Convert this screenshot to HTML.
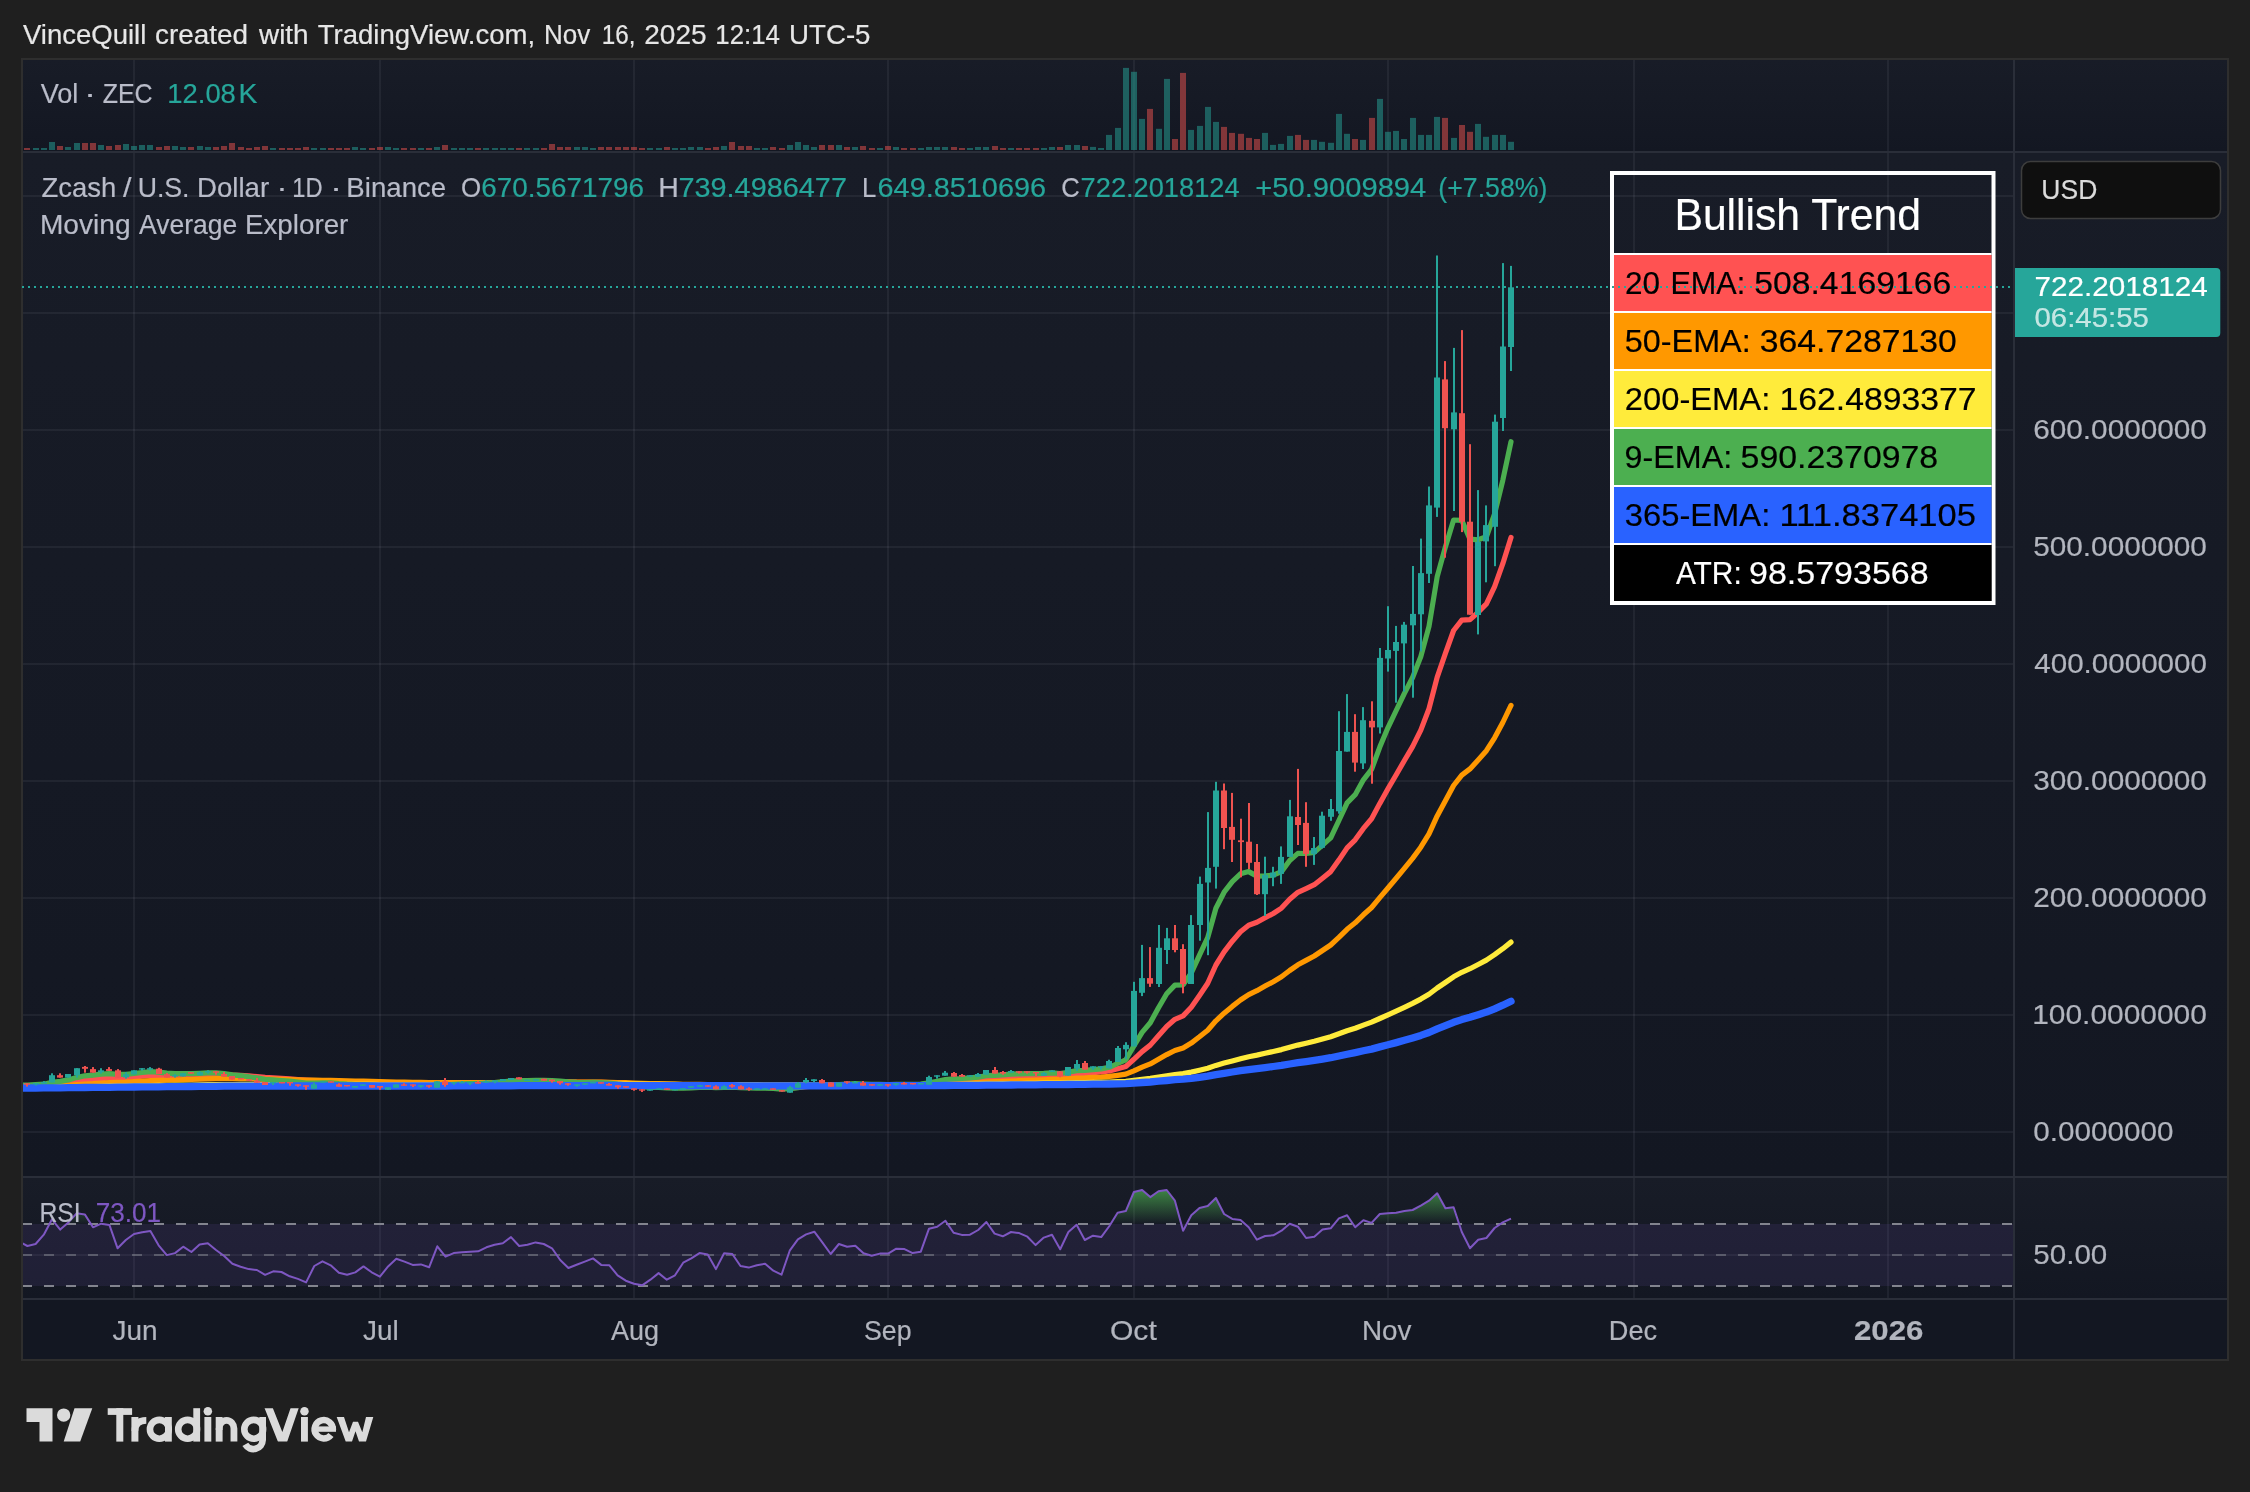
<!DOCTYPE html>
<html><head><meta charset="utf-8"><title>ZEC chart</title>
<style>html,body{margin:0;padding:0;background:#1f1f1f}svg{display:block;will-change:transform}text{font-family:"Liberation Sans",sans-serif;white-space:pre;stroke-width:0.2px}</style></head><body>
<svg width="2250" height="1492" viewBox="0 0 2250 1492">
<defs>
<linearGradient id="bg" x1="0" y1="0" x2="0" y2="1"><stop offset="0" stop-color="#181c27"/><stop offset="1" stop-color="#131722"/></linearGradient>
<linearGradient id="ob" gradientUnits="userSpaceOnUse" x1="0" y1="1178" x2="0" y2="1224"><stop offset="0" stop-color="#4caf50" stop-opacity="0.95"/><stop offset="1" stop-color="#4caf50" stop-opacity="0"/></linearGradient>
<clipPath id="cm"><rect x="23" y="153" width="1990" height="1023"/></clipPath>
<clipPath id="cv"><rect x="23" y="60" width="1990" height="90"/></clipPath>
<clipPath id="cr"><rect x="23" y="1178" width="1990" height="120"/></clipPath>
<clipPath id="c70"><rect x="23" y="1178" width="1990" height="46"/></clipPath>
</defs>
<rect width="2250" height="1492" fill="#1f1f1f"/>
<rect x="21" y="58" width="2208" height="1303" fill="#2e2e2e"/>
<rect x="23" y="60" width="2204" height="92" fill="url(#bg)"/>
<rect x="23" y="152" width="2204" height="1025" fill="url(#bg)"/>
<rect x="23" y="1177" width="2204" height="122" fill="url(#bg)"/>
<rect x="23" y="1299" width="2204" height="60" fill="#131722"/>
<g fill="#f0f3fa" fill-opacity="0.06">
<rect x="133" y="60" width="2" height="1238"/>
<rect x="379" y="60" width="2" height="1238"/>
<rect x="633" y="60" width="2" height="1238"/>
<rect x="887" y="60" width="2" height="1238"/>
<rect x="1133" y="60" width="2" height="1238"/>
<rect x="1387" y="60" width="2" height="1238"/>
<rect x="1633" y="60" width="2" height="1238"/>
<rect x="1887" y="60" width="2" height="1238"/>
<rect x="23" y="1131" width="1990" height="2"/>
<rect x="23" y="1014" width="1990" height="2"/>
<rect x="23" y="897" width="1990" height="2"/>
<rect x="23" y="780" width="1990" height="2"/>
<rect x="23" y="663" width="1990" height="2"/>
<rect x="23" y="546" width="1990" height="2"/>
<rect x="23" y="429" width="1990" height="2"/>
<rect x="23" y="312" width="1990" height="2"/>
<rect x="23" y="195" width="1990" height="2"/>
<rect x="23" y="1254" width="1990" height="2"/>
</g>
<g fill="#2a2e39">
<rect x="23" y="151" width="2204" height="2"/>
<rect x="23" y="1176" width="2204" height="2"/>
<rect x="23" y="1298" width="2204" height="2"/>
<rect x="2013" y="60" width="2" height="1299"/>
</g>
<g clip-path="url(#cv)">
<g fill="#26a69a" fill-opacity="0.5"><rect x="33" y="148" width="6" height="2"/><rect x="41" y="148" width="6" height="2"/><rect x="49" y="142" width="6" height="8"/><rect x="65" y="147" width="6" height="3"/><rect x="74" y="143" width="6" height="7"/><rect x="98" y="145" width="6" height="5"/><rect x="123" y="144" width="6" height="6"/><rect x="131" y="146" width="6" height="4"/><rect x="139" y="145" width="6" height="5"/><rect x="147" y="145" width="6" height="5"/><rect x="172" y="146" width="6" height="4"/><rect x="180" y="147" width="6" height="3"/><rect x="197" y="146" width="6" height="4"/><rect x="205" y="147" width="6" height="3"/><rect x="270" y="148" width="6" height="2"/><rect x="311" y="148" width="6" height="2"/><rect x="320" y="148" width="6" height="2"/><rect x="352" y="147" width="6" height="3"/><rect x="360" y="148" width="6" height="2"/><rect x="385" y="147" width="6" height="3"/><rect x="393" y="148" width="6" height="2"/><rect x="418" y="148" width="6" height="2"/><rect x="434" y="147" width="6" height="3"/><rect x="451" y="148" width="6" height="2"/><rect x="459" y="148" width="6" height="2"/><rect x="467" y="148" width="6" height="2"/><rect x="483" y="148" width="6" height="2"/><rect x="492" y="148" width="6" height="2"/><rect x="500" y="148" width="6" height="2"/><rect x="508" y="148" width="6" height="2"/><rect x="524" y="148" width="6" height="2"/><rect x="533" y="148" width="6" height="2"/><rect x="574" y="147" width="6" height="3"/><rect x="582" y="147" width="6" height="3"/><rect x="590" y="148" width="6" height="2"/><rect x="647" y="148" width="6" height="2"/><rect x="656" y="148" width="6" height="2"/><rect x="672" y="148" width="6" height="2"/><rect x="680" y="148" width="6" height="2"/><rect x="688" y="147" width="6" height="3"/><rect x="697" y="147" width="6" height="3"/><rect x="721" y="146" width="6" height="4"/><rect x="754" y="148" width="6" height="2"/><rect x="762" y="148" width="6" height="2"/><rect x="787" y="145" width="6" height="5"/><rect x="795" y="142" width="6" height="8"/><rect x="803" y="145" width="6" height="5"/><rect x="811" y="147" width="6" height="3"/><rect x="836" y="145" width="6" height="5"/><rect x="852" y="147" width="6" height="3"/><rect x="877" y="148" width="6" height="2"/><rect x="893" y="147" width="6" height="3"/><rect x="918" y="148" width="6" height="2"/><rect x="926" y="147" width="6" height="3"/><rect x="934" y="147" width="6" height="3"/><rect x="942" y="147" width="6" height="3"/><rect x="967" y="148" width="6" height="2"/><rect x="975" y="147" width="6" height="3"/><rect x="983" y="147" width="6" height="3"/><rect x="1008" y="148" width="6" height="2"/><rect x="1041" y="148" width="6" height="2"/><rect x="1049" y="147" width="6" height="3"/><rect x="1065" y="145" width="6" height="5"/><rect x="1074" y="145" width="6" height="5"/><rect x="1090" y="146.9" width="6" height="3.1"/><rect x="1098" y="148" width="6" height="2"/><rect x="1106" y="134.9" width="6" height="15.1"/><rect x="1115" y="127.9" width="6" height="22.1"/><rect x="1123" y="67.9" width="6" height="82.1"/><rect x="1131" y="71.8" width="6" height="78.2"/><rect x="1139" y="118.9" width="6" height="31.1"/><rect x="1156" y="128.8" width="6" height="21.2"/><rect x="1164" y="78.9" width="6" height="71.1"/><rect x="1188" y="129.9" width="6" height="20.1"/><rect x="1197" y="125.9" width="6" height="24.1"/><rect x="1205" y="106.9" width="6" height="43.1"/><rect x="1213" y="121.9" width="6" height="28.1"/><rect x="1262" y="132.9" width="6" height="17.1"/><rect x="1270" y="144.9" width="6" height="5.1"/><rect x="1278" y="143.9" width="6" height="6.1"/><rect x="1287" y="135.9" width="6" height="14.1"/><rect x="1311" y="139.9" width="6" height="10.1"/><rect x="1319" y="141.8" width="6" height="8.2"/><rect x="1328" y="142.8" width="6" height="7.2"/><rect x="1336" y="113.9" width="6" height="36.1"/><rect x="1344" y="133.8" width="6" height="16.2"/><rect x="1360" y="139.9" width="6" height="10.1"/><rect x="1377" y="98.9" width="6" height="51.1"/><rect x="1385" y="131.8" width="6" height="18.2"/><rect x="1393" y="130.9" width="6" height="19.1"/><rect x="1401" y="139" width="6" height="11"/><rect x="1410" y="117.9" width="6" height="32.1"/><rect x="1418" y="134.9" width="6" height="15.1"/><rect x="1426" y="134.9" width="6" height="15.1"/><rect x="1434" y="116.9" width="6" height="33.1"/><rect x="1451" y="137.9" width="6" height="12.1"/><rect x="1475" y="123.9" width="6" height="26.1"/><rect x="1483" y="136.8" width="6" height="13.2"/><rect x="1492" y="134.9" width="6" height="15.1"/><rect x="1500" y="134.9" width="6" height="15.1"/><rect x="1508" y="141.8" width="6" height="8.2"/></g>
<g fill="#ef5350" fill-opacity="0.5"><rect x="24" y="148" width="6" height="2"/><rect x="57" y="146" width="6" height="4"/><rect x="82" y="143" width="6" height="7"/><rect x="90" y="143" width="6" height="7"/><rect x="106" y="146" width="6" height="4"/><rect x="115" y="145" width="6" height="5"/><rect x="156" y="147" width="6" height="3"/><rect x="164" y="146" width="6" height="4"/><rect x="188" y="147" width="6" height="3"/><rect x="213" y="147" width="6" height="3"/><rect x="221" y="146" width="6" height="4"/><rect x="229" y="143" width="6" height="7"/><rect x="238" y="147" width="6" height="3"/><rect x="246" y="148" width="6" height="2"/><rect x="254" y="147" width="6" height="3"/><rect x="262" y="146" width="6" height="4"/><rect x="279" y="148" width="6" height="2"/><rect x="287" y="148" width="6" height="2"/><rect x="295" y="148" width="6" height="2"/><rect x="303" y="147" width="6" height="3"/><rect x="328" y="148" width="6" height="2"/><rect x="336" y="148" width="6" height="2"/><rect x="344" y="148" width="6" height="2"/><rect x="369" y="148" width="6" height="2"/><rect x="377" y="147" width="6" height="3"/><rect x="401" y="148" width="6" height="2"/><rect x="410" y="148" width="6" height="2"/><rect x="426" y="148" width="6" height="2"/><rect x="442" y="145" width="6" height="5"/><rect x="475" y="148" width="6" height="2"/><rect x="516" y="148" width="6" height="2"/><rect x="541" y="148" width="6" height="2"/><rect x="549" y="144" width="6" height="6"/><rect x="557" y="147" width="6" height="3"/><rect x="565" y="147" width="6" height="3"/><rect x="598" y="147" width="6" height="3"/><rect x="606" y="147" width="6" height="3"/><rect x="615" y="147" width="6" height="3"/><rect x="623" y="147" width="6" height="3"/><rect x="631" y="147" width="6" height="3"/><rect x="639" y="148" width="6" height="2"/><rect x="664" y="147" width="6" height="3"/><rect x="705" y="148" width="6" height="2"/><rect x="713" y="147" width="6" height="3"/><rect x="729" y="142" width="6" height="8"/><rect x="738" y="146" width="6" height="4"/><rect x="746" y="146" width="6" height="4"/><rect x="770" y="147" width="6" height="3"/><rect x="779" y="148" width="6" height="2"/><rect x="819" y="145" width="6" height="5"/><rect x="828" y="145" width="6" height="5"/><rect x="844" y="147" width="6" height="3"/><rect x="860" y="146" width="6" height="4"/><rect x="869" y="148" width="6" height="2"/><rect x="885" y="146" width="6" height="4"/><rect x="901" y="148" width="6" height="2"/><rect x="910" y="148" width="6" height="2"/><rect x="951" y="147" width="6" height="3"/><rect x="959" y="148" width="6" height="2"/><rect x="992" y="146" width="6" height="4"/><rect x="1000" y="148" width="6" height="2"/><rect x="1016" y="148" width="6" height="2"/><rect x="1024" y="148" width="6" height="2"/><rect x="1033" y="148" width="6" height="2"/><rect x="1057" y="147" width="6" height="3"/><rect x="1082" y="146" width="6" height="4"/><rect x="1147" y="108.9" width="6" height="41.1"/><rect x="1172" y="139" width="6" height="11"/><rect x="1180" y="72.9" width="6" height="77.1"/><rect x="1221" y="126.9" width="6" height="23.1"/><rect x="1229" y="132.9" width="6" height="17.1"/><rect x="1238" y="133.8" width="6" height="16.2"/><rect x="1246" y="137.9" width="6" height="12.1"/><rect x="1254" y="139" width="6" height="11"/><rect x="1295" y="134.9" width="6" height="15.1"/><rect x="1303" y="139.9" width="6" height="10.1"/><rect x="1352" y="139" width="6" height="11"/><rect x="1369" y="117.9" width="6" height="32.1"/><rect x="1442" y="117.9" width="6" height="32.1"/><rect x="1459" y="125" width="6" height="25"/><rect x="1467" y="131.8" width="6" height="18.2"/></g>
</g>
<g clip-path="url(#cm)">
<polyline points="19.3,1086.2 27.4,1086.2 35.6,1085.9 43.8,1085.6 52,1084.6 60.2,1083.9 68.4,1083 76.6,1081.6 84.8,1080.3 93,1079.6 101.2,1078.7 109.4,1078 117.6,1077.9 125.8,1077.6 134,1076.9 142.2,1076.1 150.4,1075.3 158.6,1075.2 166.8,1075.4 175,1075.4 183.2,1075.2 191.4,1075.1 199.6,1074.8 207.8,1074.5 216,1074.3 224.2,1074.5 232.4,1075 240.6,1075.4 248.7,1075.9 256.9,1076.6 265.1,1077.4 273.3,1077.8 281.5,1078.3 289.7,1078.8 297.9,1079.5 306.1,1080.1 314.3,1080.6 322.5,1080.6 330.7,1080.8 338.9,1081.4 347.1,1081.9 355.3,1082.3 363.5,1082.5 371.7,1083 379.9,1083.4 388.1,1083.8 396.3,1083.8 404.5,1084 412.7,1084.2 420.9,1084.3 429.1,1084.5 437.3,1084.2 445.5,1084.3 453.7,1084.1 461.9,1083.9 470,1083.7 478.2,1083.7 486.4,1083.5 494.6,1083.2 502.8,1082.8 511,1082.3 519.2,1082 527.4,1081.8 535.6,1081.6 543.8,1081.5 552,1081.5 560.2,1081.6 568.4,1081.9 576.6,1082.2 584.8,1082.3 593,1082.3 601.2,1082.4 609.4,1082.7 617.6,1083.1 625.8,1083.6 634,1084.1 642.2,1084.8 650.4,1085.2 658.6,1085.5 666.8,1085.9 675,1086.2 683.2,1086.4 691.3,1086.4 699.5,1086.3 707.7,1086.3 715.9,1086.6 724.1,1086.6 732.3,1086.6 740.5,1086.8 748.7,1087.1 756.9,1087.2 765.1,1087.4 773.3,1087.6 781.5,1088 789.7,1087.9 797.9,1087.5 806.1,1086.7 814.3,1086 822.5,1085.8 830.7,1085.9 838.9,1085.6 847.1,1085.3 855.3,1085 863.5,1085 871.7,1085.1 879.9,1085 888.1,1085.1 896.3,1084.9 904.5,1084.9 912.6,1084.8 920.8,1084.6 929,1083.9 937.2,1083.1 945.4,1082.1 953.6,1081.6 961.8,1081.1 970,1080.6 978.2,1079.9 986.4,1079 994.6,1078.5 1002.8,1078 1011,1077.4 1019.2,1076.9 1027.4,1076.5 1035.6,1076.2 1043.8,1075.9 1052,1075.4 1060.2,1075.5 1068.4,1074.7 1076.6,1073.6 1084.8,1073.3 1093,1072.6 1101.2,1072 1109.4,1070.9 1117.6,1068.8 1125.8,1066.5 1133.9,1059.3 1142.1,1051.6 1150.3,1045.1 1158.5,1035.8 1166.7,1026.5 1174.9,1019.3 1183.1,1015.9 1191.3,1007.2 1199.5,995.5 1207.7,983.3 1215.9,965 1224.1,951.9 1232.3,941.2 1240.5,931.8 1248.7,925.2 1256.9,922.3 1265.1,917.8 1273.3,913.5 1281.5,908.1 1289.7,899.3 1297.9,892.3 1306.1,888.6 1314.3,884.7 1322.5,878.2 1330.7,871.6 1338.9,860.1 1347.1,847.9 1355.2,839.8 1363.4,828.4 1371.6,818.8 1379.8,803.4 1388,788.8 1396.2,774.8 1404.4,760.5 1412.6,746.6 1420.8,730.1 1429,708.7 1437.2,677.1 1445.4,653.4 1453.6,630.5 1461.8,620.1 1470,619.6 1478.2,612.2 1486.4,603.9 1494.6,586.6 1502.8,563.7 1511,537.4" fill="none" stroke="#ff5252" stroke-width="5.2" stroke-linejoin="round" stroke-linecap="round"/>
<polyline points="19.3,1086.9 27.4,1086.9 35.6,1086.7 43.8,1086.5 52,1086.1 60.2,1085.8 68.4,1085.3 76.6,1084.6 84.8,1084 93,1083.6 101.2,1083 109.4,1082.6 117.6,1082.4 125.8,1082.1 134,1081.6 142.2,1081.1 150.4,1080.6 158.6,1080.3 166.8,1080.2 175,1080 183.2,1079.7 191.4,1079.5 199.6,1079.2 207.8,1078.9 216,1078.7 224.2,1078.6 232.4,1078.6 240.6,1078.7 248.7,1078.7 256.9,1078.9 265.1,1079.1 273.3,1079.2 281.5,1079.4 289.7,1079.6 297.9,1079.8 306.1,1080.1 314.3,1080.2 322.5,1080.3 330.7,1080.4 338.9,1080.6 347.1,1080.8 355.3,1081 363.5,1081.2 371.7,1081.4 379.9,1081.7 388.1,1081.9 396.3,1082 404.5,1082.1 412.7,1082.3 420.9,1082.4 429.1,1082.6 437.3,1082.5 445.5,1082.6 453.7,1082.6 461.9,1082.6 470,1082.6 478.2,1082.6 486.4,1082.5 494.6,1082.5 502.8,1082.3 511,1082.2 519.2,1082 527.4,1081.9 535.6,1081.8 543.8,1081.8 552,1081.8 560.2,1081.8 568.4,1082 576.6,1082 584.8,1082.1 593,1082.1 601.2,1082.2 609.4,1082.3 617.6,1082.5 625.8,1082.7 634,1083 642.2,1083.3 650.4,1083.5 658.6,1083.7 666.8,1083.9 675,1084.1 683.2,1084.3 691.3,1084.4 699.5,1084.4 707.7,1084.5 715.9,1084.7 724.1,1084.7 732.3,1084.8 740.5,1085 748.7,1085.2 756.9,1085.3 765.1,1085.4 773.3,1085.6 781.5,1085.8 789.7,1085.9 797.9,1085.8 806.1,1085.6 814.3,1085.3 822.5,1085.2 830.7,1085.3 838.9,1085.2 847.1,1085.1 855.3,1085 863.5,1085 871.7,1085 879.9,1085 888.1,1085 896.3,1085 904.5,1084.9 912.6,1084.9 920.8,1084.8 929,1084.5 937.2,1084.2 945.4,1083.7 953.6,1083.4 961.8,1083.2 970,1082.9 978.2,1082.5 986.4,1082 994.6,1081.7 1002.8,1081.4 1011,1081 1019.2,1080.7 1027.4,1080.3 1035.6,1080.1 1043.8,1079.8 1052,1079.4 1060.2,1079.3 1068.4,1078.8 1076.6,1078.2 1084.8,1077.9 1093,1077.4 1101.2,1077 1109.4,1076.4 1117.6,1075.3 1125.8,1074.1 1133.9,1070.8 1142.1,1067.2 1150.3,1063.9 1158.5,1059.3 1166.7,1054.6 1174.9,1050.5 1183.1,1047.9 1191.3,1043.1 1199.5,1036.8 1207.7,1030.2 1215.9,1020.8 1224.1,1013.2 1232.3,1006.4 1240.5,1000 1248.7,994.6 1256.9,990.7 1265.1,986.1 1273.3,981.7 1281.5,976.8 1289.7,970.5 1297.9,964.8 1306.1,960.4 1314.3,956 1322.5,950.5 1330.7,945 1338.9,937.4 1347.1,929.3 1355.2,922.8 1363.4,914.8 1371.6,907.5 1379.8,897.7 1388,888 1396.2,878.3 1404.4,868.4 1412.6,858.4 1420.8,847.2 1429,833.8 1437.2,815.9 1445.4,800.7 1453.6,785.5 1461.8,775.1 1470,768.9 1478.2,760 1486.4,750.7 1494.6,737.8 1502.8,722.5 1511,705.4" fill="none" stroke="#ff9800" stroke-width="5.2" stroke-linejoin="round" stroke-linecap="round"/>
<polyline points="19.3,1087.5 27.4,1087.5 35.6,1087.5 43.8,1087.4 52,1087.3 60.2,1087.2 68.4,1087.1 76.6,1086.9 84.8,1086.7 93,1086.6 101.2,1086.4 109.4,1086.2 117.6,1086.2 125.8,1086 134,1085.9 142.2,1085.7 150.4,1085.5 158.6,1085.4 166.8,1085.3 175,1085.2 183.2,1085.1 191.4,1085 199.6,1084.9 207.8,1084.7 216,1084.6 224.2,1084.5 232.4,1084.5 240.6,1084.4 248.7,1084.4 256.9,1084.4 265.1,1084.4 273.3,1084.4 281.5,1084.4 289.7,1084.4 297.9,1084.4 306.1,1084.4 314.3,1084.4 322.5,1084.4 330.7,1084.3 338.9,1084.4 347.1,1084.4 355.3,1084.4 363.5,1084.4 371.7,1084.4 379.9,1084.5 388.1,1084.5 396.3,1084.5 404.5,1084.5 412.7,1084.5 420.9,1084.5 429.1,1084.5 437.3,1084.5 445.5,1084.5 453.7,1084.5 461.9,1084.5 470,1084.4 478.2,1084.4 486.4,1084.4 494.6,1084.4 502.8,1084.3 511,1084.3 519.2,1084.2 527.4,1084.2 535.6,1084.1 543.8,1084.1 552,1084 560.2,1084 568.4,1084 576.6,1084 584.8,1084 593,1084 601.2,1084 609.4,1084 617.6,1084.1 625.8,1084.1 634,1084.2 642.2,1084.2 650.4,1084.3 658.6,1084.3 666.8,1084.4 675,1084.4 683.2,1084.5 691.3,1084.5 699.5,1084.5 707.7,1084.5 715.9,1084.5 724.1,1084.6 732.3,1084.6 740.5,1084.6 748.7,1084.7 756.9,1084.7 765.1,1084.8 773.3,1084.8 781.5,1084.9 789.7,1084.9 797.9,1084.9 806.1,1084.8 814.3,1084.8 822.5,1084.8 830.7,1084.8 838.9,1084.8 847.1,1084.7 855.3,1084.7 863.5,1084.7 871.7,1084.7 879.9,1084.7 888.1,1084.7 896.3,1084.7 904.5,1084.7 912.6,1084.7 920.8,1084.7 929,1084.6 937.2,1084.5 945.4,1084.4 953.6,1084.3 961.8,1084.3 970,1084.2 978.2,1084.1 986.4,1083.9 994.6,1083.8 1002.8,1083.7 1011,1083.6 1019.2,1083.5 1027.4,1083.4 1035.6,1083.3 1043.8,1083.2 1052,1083.1 1060.2,1083 1068.4,1082.8 1076.6,1082.6 1084.8,1082.5 1093,1082.3 1101.2,1082.2 1109.4,1082 1117.6,1081.6 1125.8,1081.3 1133.9,1080.4 1142.1,1079.4 1150.3,1078.4 1158.5,1077.1 1166.7,1075.7 1174.9,1074.5 1183.1,1073.6 1191.3,1072.1 1199.5,1070.2 1207.7,1068.2 1215.9,1065.4 1224.1,1063.1 1232.3,1060.9 1240.5,1058.7 1248.7,1056.7 1256.9,1055.1 1265.1,1053.3 1273.3,1051.5 1281.5,1049.6 1289.7,1047.3 1297.9,1045.1 1306.1,1043.2 1314.3,1041.2 1322.5,1039 1330.7,1036.7 1338.9,1033.8 1347.1,1030.8 1355.2,1028.2 1363.4,1025.1 1371.6,1022.1 1379.8,1018.5 1388,1014.8 1396.2,1011.1 1404.4,1007.3 1412.6,1003.4 1420.8,999.1 1429,994.2 1437.2,988 1445.4,982.5 1453.6,976.8 1461.8,972.3 1470,968.7 1478.2,964.5 1486.4,960.1 1494.6,954.7 1502.8,948.7 1511,942.1" fill="none" stroke="#ffeb3b" stroke-width="5.2" stroke-linejoin="round" stroke-linecap="round"/>
<polyline points="19.3,1085.1 27.4,1085.1 35.6,1084.7 43.8,1084.2 52,1082.4 60.2,1081.4 68.4,1079.9 76.6,1077.6 84.8,1075.8 93,1075.2 101.2,1074.2 109.4,1073.6 117.6,1074.4 125.8,1074.3 134,1073.5 142.2,1072.5 150.4,1071.6 158.6,1072.1 166.8,1073.2 175,1073.6 183.2,1073.6 191.4,1073.6 199.6,1073.3 207.8,1072.9 216,1072.9 224.2,1073.6 232.4,1074.8 240.6,1075.7 248.7,1076.7 256.9,1077.9 265.1,1079.3 273.3,1079.9 281.5,1080.5 289.7,1081.1 297.9,1082 306.1,1083 314.3,1083.2 322.5,1082.9 330.7,1082.8 338.9,1083.6 347.1,1084.2 355.3,1084.5 363.5,1084.5 371.7,1085.1 379.9,1085.6 388.1,1086 396.3,1085.7 404.5,1085.7 412.7,1085.7 420.9,1085.6 429.1,1085.8 437.3,1084.9 445.5,1084.9 453.7,1084.3 461.9,1083.9 470,1083.6 478.2,1083.6 486.4,1083.1 494.6,1082.6 502.8,1081.9 511,1081.1 519.2,1080.7 527.4,1080.5 535.6,1080.3 543.8,1080.3 552,1080.5 560.2,1081.1 568.4,1081.8 576.6,1082.3 584.8,1082.5 593,1082.4 601.2,1082.7 609.4,1083.2 617.6,1084.1 625.8,1084.8 634,1085.8 642.2,1086.7 650.4,1087.3 658.6,1087.5 666.8,1087.9 675,1088.1 683.2,1088.2 691.3,1087.8 699.5,1087.3 707.7,1087.2 715.9,1087.6 724.1,1087.3 732.3,1087.2 740.5,1087.6 748.7,1088 756.9,1088.1 765.1,1088.2 773.3,1088.5 781.5,1089.1 789.7,1088.7 797.9,1087.7 806.1,1086.1 814.3,1084.8 822.5,1084.5 830.7,1084.9 838.9,1084.5 847.1,1084.1 855.3,1083.7 863.5,1084.1 871.7,1084.4 879.9,1084.4 888.1,1084.6 896.3,1084.3 904.5,1084.4 912.6,1084.4 920.8,1084.1 929,1082.7 937.2,1081.2 945.4,1079.5 953.6,1078.9 961.8,1078.5 970,1077.9 978.2,1077.1 986.4,1075.7 994.6,1075.3 1002.8,1074.9 1011,1074.1 1019.2,1073.9 1027.4,1073.6 1035.6,1073.6 1043.8,1073.4 1052,1072.8 1060.2,1073.5 1068.4,1072.2 1076.6,1070.6 1084.8,1070.4 1093,1069.6 1101.2,1068.9 1109.4,1067.3 1117.6,1063.5 1125.8,1059.8 1133.9,1046 1142.1,1032.4 1150.3,1022.7 1158.5,1007.7 1166.7,993.8 1174.9,985.1 1183.1,984.8 1191.3,972.9 1199.5,955.1 1207.7,937.6 1215.9,908.2 1224.1,892.2 1232.3,881.7 1240.5,873.8 1248.7,871.6 1256.9,876.1 1265.1,875.9 1273.3,875.2 1281.5,871.6 1289.7,860.5 1297.9,853.4 1306.1,853.5 1314.3,852.4 1322.5,845.1 1330.7,837.9 1338.9,820.5 1347.1,802.8 1355.2,794.7 1363.4,779.8 1371.6,769.3 1379.8,747.1 1388,727.6 1396.2,710.5 1404.4,693.4 1412.6,677.5 1420.8,656.6 1429,626.4 1437.2,576.6 1445.4,546.9 1453.6,520 1461.8,520.3 1470,539.2 1478.2,539.8 1486.4,536.8 1494.6,513.8 1502.8,480.3 1511,441.7" fill="none" stroke="#4caf50" stroke-width="5.2" stroke-linejoin="round" stroke-linecap="round"/>
<polyline points="19.3,1088 27.4,1088 35.6,1088 43.8,1087.9 52,1087.9 60.2,1087.8 68.4,1087.7 76.6,1087.6 84.8,1087.5 93,1087.4 101.2,1087.3 109.4,1087.3 117.6,1087.2 125.8,1087.1 134,1087 142.2,1086.9 150.4,1086.8 158.6,1086.8 166.8,1086.7 175,1086.7 183.2,1086.6 191.4,1086.5 199.6,1086.4 207.8,1086.3 216,1086.3 224.2,1086.2 232.4,1086.2 240.6,1086.1 248.7,1086.1 256.9,1086.1 265.1,1086.1 273.3,1086.1 281.5,1086.1 289.7,1086 297.9,1086 306.1,1086 314.3,1086 322.5,1086 330.7,1086 338.9,1086 347.1,1086 355.3,1086 363.5,1086 371.7,1086 379.9,1086 388.1,1086 396.3,1086 404.5,1086 412.7,1086 420.9,1086 429.1,1086 437.3,1086 445.5,1086 453.7,1085.9 461.9,1085.9 470,1085.9 478.2,1085.9 486.4,1085.9 494.6,1085.8 502.8,1085.8 511,1085.8 519.2,1085.7 527.4,1085.7 535.6,1085.7 543.8,1085.6 552,1085.6 560.2,1085.6 568.4,1085.6 576.6,1085.6 584.8,1085.6 593,1085.5 601.2,1085.5 609.4,1085.5 617.6,1085.5 625.8,1085.6 634,1085.6 642.2,1085.6 650.4,1085.6 658.6,1085.6 666.8,1085.7 675,1085.7 683.2,1085.7 691.3,1085.7 699.5,1085.7 707.7,1085.7 715.9,1085.7 724.1,1085.7 732.3,1085.7 740.5,1085.8 748.7,1085.8 756.9,1085.8 765.1,1085.8 773.3,1085.8 781.5,1085.9 789.7,1085.9 797.9,1085.8 806.1,1085.8 814.3,1085.8 822.5,1085.8 830.7,1085.8 838.9,1085.8 847.1,1085.7 855.3,1085.7 863.5,1085.7 871.7,1085.7 879.9,1085.7 888.1,1085.7 896.3,1085.7 904.5,1085.7 912.6,1085.7 920.8,1085.7 929,1085.6 937.2,1085.6 945.4,1085.5 953.6,1085.4 961.8,1085.4 970,1085.3 978.2,1085.3 986.4,1085.2 994.6,1085.1 1002.8,1085.1 1011,1085 1019.2,1084.9 1027.4,1084.9 1035.6,1084.8 1043.8,1084.7 1052,1084.7 1060.2,1084.6 1068.4,1084.5 1076.6,1084.4 1084.8,1084.3 1093,1084.2 1101.2,1084.1 1109.4,1084 1117.6,1083.8 1125.8,1083.6 1133.9,1083.1 1142.1,1082.5 1150.3,1082 1158.5,1081.2 1166.7,1080.5 1174.9,1079.7 1183.1,1079.2 1191.3,1078.4 1199.5,1077.3 1207.7,1076.2 1215.9,1074.6 1224.1,1073.3 1232.3,1072 1240.5,1070.7 1248.7,1069.6 1256.9,1068.6 1265.1,1067.6 1273.3,1066.5 1281.5,1065.4 1289.7,1064 1297.9,1062.7 1306.1,1061.6 1314.3,1060.4 1322.5,1059.1 1330.7,1057.7 1338.9,1056 1347.1,1054.2 1355.2,1052.6 1363.4,1050.8 1371.6,1049.1 1379.8,1046.9 1388,1044.8 1396.2,1042.6 1404.4,1040.3 1412.6,1037.9 1420.8,1035.4 1429,1032.5 1437.2,1028.9 1445.4,1025.6 1453.6,1022.3 1461.8,1019.6 1470,1017.3 1478.2,1014.7 1486.4,1012.1 1494.6,1008.8 1502.8,1005.2 1511,1001.3" fill="none" stroke="#2962ff" stroke-width="7.3" stroke-linejoin="round" stroke-linecap="round"/>
<g fill="#26a69a"><rect x="35" y="1083.3" width="2" height="2.2"/><rect x="33" y="1083" width="6" height="1.4"/><rect x="43" y="1081.1" width="2" height="2.4"/><rect x="41" y="1082" width="6" height="1.5"/><rect x="51" y="1073.3" width="2" height="9.1"/><rect x="49" y="1075.2" width="6" height="7.2"/><rect x="67" y="1074" width="2" height="3.6"/><rect x="65" y="1074" width="6" height="3.6"/><rect x="76" y="1068.2" width="2" height="9.4"/><rect x="74" y="1068.2" width="6" height="7"/><rect x="100" y="1068.2" width="2" height="5.4"/><rect x="98" y="1070.3" width="6" height="1.9"/><rect x="125" y="1072.2" width="2" height="6.4"/><rect x="123" y="1074.2" width="6" height="3.2"/><rect x="133" y="1070.3" width="2" height="4.1"/><rect x="131" y="1070.3" width="6" height="4.1"/><rect x="141" y="1068.2" width="2" height="2.4"/><rect x="139" y="1068.2" width="6" height="1.4"/><rect x="149" y="1067.1" width="2" height="3.5"/><rect x="147" y="1068.2" width="6" height="1.5"/><rect x="174" y="1074.2" width="2" height="3.4"/><rect x="172" y="1075.1" width="6" height="1.4"/><rect x="182" y="1073.3" width="2" height="3.1"/><rect x="180" y="1073.3" width="6" height="3.1"/><rect x="199" y="1071.3" width="2" height="4"/><rect x="197" y="1072.2" width="6" height="3.1"/><rect x="207" y="1070.3" width="2" height="3.3"/><rect x="205" y="1071.1" width="6" height="1.4"/><rect x="272" y="1082" width="2" height="3"/><rect x="270" y="1082" width="6" height="1.4"/><rect x="313" y="1082.7" width="2" height="6"/><rect x="311" y="1084.4" width="6" height="4.3"/><rect x="322" y="1081.3" width="2" height="1.4"/><rect x="320" y="1081.3" width="6" height="1.4"/><rect x="354" y="1086" width="2" height="1.6"/><rect x="352" y="1086" width="6" height="1.6"/><rect x="362" y="1084.4" width="2" height="1.3"/><rect x="360" y="1084.4" width="6" height="1.4"/><rect x="387" y="1087.3" width="2" height="2.3"/><rect x="385" y="1087.3" width="6" height="2.3"/><rect x="395" y="1084.4" width="2" height="3.3"/><rect x="393" y="1084.4" width="6" height="3.3"/><rect x="420" y="1085.3" width="2" height="2.4"/><rect x="418" y="1085.3" width="6" height="1.4"/><rect x="436" y="1081.3" width="2" height="6.4"/><rect x="434" y="1081.3" width="6" height="6.4"/><rect x="453" y="1082" width="2" height="2.7"/><rect x="451" y="1082" width="6" height="1.4"/><rect x="461" y="1081" width="2" height="2.3"/><rect x="459" y="1082" width="6" height="1.4"/><rect x="469" y="1082.3" width="2" height="2.7"/><rect x="467" y="1082.2" width="6" height="1.4"/><rect x="485" y="1080.4" width="2" height="2.3"/><rect x="483" y="1081.3" width="6" height="1.4"/><rect x="494" y="1080.4" width="2" height="2.9"/><rect x="492" y="1080.4" width="6" height="1.6"/><rect x="502" y="1079" width="2" height="2"/><rect x="500" y="1079" width="6" height="2"/><rect x="510" y="1078" width="2" height="2"/><rect x="508" y="1078" width="6" height="2"/><rect x="526" y="1079.6" width="2" height="1.4"/><rect x="524" y="1079.6" width="6" height="1.4"/><rect x="535" y="1079.3" width="2" height="1.4"/><rect x="533" y="1079.3" width="6" height="1.4"/><rect x="576" y="1084.4" width="2" height="2.3"/><rect x="574" y="1084.4" width="6" height="1.4"/><rect x="584" y="1083.3" width="2" height="1.4"/><rect x="582" y="1083.3" width="6" height="1.4"/><rect x="592" y="1082" width="2" height="1.3"/><rect x="590" y="1082" width="6" height="1.4"/><rect x="649" y="1089.3" width="2" height="1.4"/><rect x="647" y="1089.3" width="6" height="1.4"/><rect x="658" y="1088.4" width="2" height="1.3"/><rect x="656" y="1088.4" width="6" height="1.4"/><rect x="674" y="1089" width="2" height="1.3"/><rect x="672" y="1089" width="6" height="1.4"/><rect x="682" y="1088.3" width="2" height="1.7"/><rect x="680" y="1088.3" width="6" height="1.7"/><rect x="690" y="1086.3" width="2" height="1.3"/><rect x="688" y="1086.2" width="6" height="1.4"/><rect x="699" y="1085.3" width="2" height="1.4"/><rect x="697" y="1085.3" width="6" height="1.4"/><rect x="723" y="1085.3" width="2" height="4"/><rect x="721" y="1086.3" width="6" height="3"/><rect x="756" y="1088.4" width="2" height="1.3"/><rect x="754" y="1088.4" width="6" height="1.4"/><rect x="764" y="1088.4" width="2" height="1.3"/><rect x="762" y="1088.4" width="6" height="1.4"/><rect x="789" y="1086" width="2" height="6.7"/><rect x="787" y="1087.3" width="6" height="5.4"/><rect x="797" y="1082" width="2" height="5.7"/><rect x="795" y="1083.3" width="6" height="4.4"/><rect x="805" y="1078" width="2" height="5.3"/><rect x="803" y="1080" width="6" height="2"/><rect x="813" y="1079.3" width="2" height="2.7"/><rect x="811" y="1079.3" width="6" height="1.7"/><rect x="838" y="1082.7" width="2" height="4"/><rect x="836" y="1082.7" width="6" height="4"/><rect x="854" y="1081" width="2" height="2.3"/><rect x="852" y="1082" width="6" height="1.4"/><rect x="879" y="1084.3" width="2" height="1.3"/><rect x="877" y="1084.2" width="6" height="1.4"/><rect x="895" y="1083.3" width="2" height="2.3"/><rect x="893" y="1083.3" width="6" height="1.4"/><rect x="920" y="1083" width="2" height="1.4"/><rect x="918" y="1083" width="6" height="1.4"/><rect x="928" y="1075.7" width="2" height="9"/><rect x="926" y="1077" width="6" height="7.7"/><rect x="936" y="1075.3" width="2" height="3.4"/><rect x="934" y="1075.3" width="6" height="1.4"/><rect x="944" y="1071" width="2" height="4.7"/><rect x="942" y="1072.7" width="6" height="3"/><rect x="969" y="1075.3" width="2" height="1.4"/><rect x="967" y="1075.3" width="6" height="1.4"/><rect x="977" y="1073" width="2" height="3.7"/><rect x="975" y="1074" width="6" height="2.7"/><rect x="985" y="1070" width="2" height="4.7"/><rect x="983" y="1070" width="6" height="4.7"/><rect x="1010" y="1070" width="2" height="2.7"/><rect x="1008" y="1071" width="6" height="1.7"/><rect x="1043" y="1072" width="2" height="3.7"/><rect x="1041" y="1073" width="6" height="2.7"/><rect x="1051" y="1070.4" width="2" height="1.6"/><rect x="1049" y="1070.4" width="6" height="1.6"/><rect x="1067" y="1067" width="2" height="8.7"/><rect x="1065" y="1067" width="6" height="8.7"/><rect x="1076" y="1060" width="2" height="11"/><rect x="1074" y="1064" width="6" height="4.7"/><rect x="1092" y="1066.3" width="2" height="3.7"/><rect x="1090" y="1066.3" width="6" height="2"/><rect x="1100" y="1066.3" width="2" height="3.3"/><rect x="1098" y="1066.2" width="6" height="1.4"/><rect x="1108" y="1059.7" width="2" height="8.6"/><rect x="1106" y="1061" width="6" height="7.3"/><rect x="1117" y="1046" width="2" height="16"/><rect x="1115" y="1048" width="6" height="14"/><rect x="1125" y="1042.2" width="2" height="17"/><rect x="1123" y="1044.9" width="6" height="4.4"/><rect x="1133" y="981.8" width="2" height="64.6"/><rect x="1131" y="990.9" width="6" height="55.5"/><rect x="1141" y="944.9" width="2" height="51.2"/><rect x="1139" y="978.1" width="6" height="14.7"/><rect x="1158" y="925" width="2" height="62"/><rect x="1156" y="947.8" width="6" height="36.2"/><rect x="1166" y="927.9" width="2" height="36.1"/><rect x="1164" y="938.3" width="6" height="11.7"/><rect x="1190" y="915.1" width="2" height="68.9"/><rect x="1188" y="925" width="6" height="59"/><rect x="1199" y="876.6" width="2" height="64.1"/><rect x="1197" y="883.9" width="6" height="41.1"/><rect x="1207" y="812.1" width="2" height="143.1"/><rect x="1205" y="867.9" width="6" height="14.6"/><rect x="1215" y="781.8" width="2" height="106.8"/><rect x="1213" y="790.5" width="6" height="76.3"/><rect x="1264" y="856.7" width="2" height="59.3"/><rect x="1262" y="875" width="6" height="19.2"/><rect x="1272" y="866.8" width="2" height="19.4"/><rect x="1270" y="872.6" width="6" height="4.7"/><rect x="1280" y="846.4" width="2" height="37.5"/><rect x="1278" y="856.9" width="6" height="16.9"/><rect x="1289" y="799.9" width="2" height="57"/><rect x="1287" y="816.3" width="6" height="40.6"/><rect x="1313" y="837" width="2" height="27.9"/><rect x="1311" y="848" width="6" height="5.9"/><rect x="1321" y="811.7" width="2" height="36.8"/><rect x="1319" y="815.7" width="6" height="32.1"/><rect x="1330" y="799" width="2" height="21.8"/><rect x="1328" y="809" width="6" height="7.8"/><rect x="1338" y="711.2" width="2" height="102.5"/><rect x="1336" y="751" width="6" height="60.3"/><rect x="1346" y="694.1" width="2" height="57.5"/><rect x="1344" y="731.9" width="6" height="19.7"/><rect x="1362" y="707.1" width="2" height="61.9"/><rect x="1360" y="720.2" width="6" height="43.2"/><rect x="1379" y="648" width="2" height="85.5"/><rect x="1377" y="657.9" width="6" height="69.5"/><rect x="1387" y="606.2" width="2" height="65.4"/><rect x="1385" y="650" width="6" height="8.5"/><rect x="1395" y="625.9" width="2" height="76.8"/><rect x="1393" y="642" width="6" height="8.9"/><rect x="1403" y="621.9" width="2" height="69.8"/><rect x="1401" y="624.7" width="6" height="18.7"/><rect x="1412" y="566" width="2" height="131.7"/><rect x="1410" y="613.9" width="6" height="11.4"/><rect x="1420" y="538.6" width="2" height="112.9"/><rect x="1418" y="573.1" width="6" height="41.2"/><rect x="1428" y="486.5" width="2" height="96.5"/><rect x="1426" y="505.4" width="6" height="68.4"/><rect x="1436" y="255.5" width="2" height="261.4"/><rect x="1434" y="377.5" width="6" height="130.1"/><rect x="1453" y="347.9" width="2" height="163.1"/><rect x="1451" y="412.4" width="6" height="16.9"/><rect x="1477" y="490.1" width="2" height="144.3"/><rect x="1475" y="542" width="6" height="73"/><rect x="1485" y="505.4" width="2" height="76.9"/><rect x="1483" y="525.1" width="6" height="16.3"/><rect x="1494" y="414.6" width="2" height="151.6"/><rect x="1492" y="421.7" width="6" height="105.1"/><rect x="1502" y="263.1" width="2" height="167.9"/><rect x="1500" y="346.5" width="6" height="71.5"/><rect x="1510" y="265.9" width="2" height="105.1"/><rect x="1508" y="287.3" width="6" height="59.7"/></g>
<g fill="#ef5350"><rect x="26" y="1083.3" width="2" height="3.3"/><rect x="24" y="1083.3" width="6" height="1.4"/><rect x="59" y="1073.3" width="2" height="4.3"/><rect x="57" y="1075.2" width="6" height="2.4"/><rect x="84" y="1066" width="2" height="6.7"/><rect x="82" y="1066.9" width="6" height="1.9"/><rect x="92" y="1067.1" width="2" height="5.6"/><rect x="90" y="1069.1" width="6" height="3.6"/><rect x="108" y="1067.1" width="2" height="3.8"/><rect x="106" y="1069.1" width="6" height="1.8"/><rect x="117" y="1069.1" width="2" height="8.5"/><rect x="115" y="1070.3" width="6" height="7.3"/><rect x="158" y="1067.8" width="2" height="6.2"/><rect x="156" y="1068.7" width="6" height="5.3"/><rect x="166" y="1073.1" width="2" height="4.5"/><rect x="164" y="1074.2" width="6" height="3.4"/><rect x="190" y="1072.2" width="2" height="1.4"/><rect x="188" y="1072.2" width="6" height="1.4"/><rect x="215" y="1071.3" width="2" height="3.4"/><rect x="213" y="1071.3" width="6" height="1.4"/><rect x="223" y="1072" width="2" height="4.7"/><rect x="221" y="1074" width="6" height="2.7"/><rect x="231" y="1076" width="2" height="3.6"/><rect x="229" y="1076" width="6" height="3.6"/><rect x="240" y="1078" width="2" height="1.3"/><rect x="238" y="1078" width="6" height="1.4"/><rect x="248" y="1079.3" width="2" height="1.4"/><rect x="246" y="1079.3" width="6" height="1.4"/><rect x="256" y="1078" width="2" height="4.7"/><rect x="254" y="1080.7" width="6" height="2"/><rect x="264" y="1082" width="2" height="3"/><rect x="262" y="1082" width="6" height="3"/><rect x="281" y="1082" width="2" height="1.3"/><rect x="279" y="1082" width="6" height="1.4"/><rect x="289" y="1082" width="2" height="3.7"/><rect x="287" y="1082" width="6" height="1.4"/><rect x="297" y="1084.4" width="2" height="2.3"/><rect x="295" y="1084.4" width="6" height="1.4"/><rect x="305" y="1085.3" width="2" height="4.4"/><rect x="303" y="1085.3" width="6" height="1.4"/><rect x="330" y="1081.3" width="2" height="1.4"/><rect x="328" y="1081.3" width="6" height="1.4"/><rect x="338" y="1083.3" width="2" height="3.4"/><rect x="336" y="1084.4" width="6" height="2.3"/><rect x="346" y="1085" width="2" height="1.4"/><rect x="344" y="1085" width="6" height="1.4"/><rect x="371" y="1085" width="2" height="2.7"/><rect x="369" y="1085" width="6" height="2.7"/><rect x="379" y="1086" width="2" height="3.7"/><rect x="377" y="1086" width="6" height="1.6"/><rect x="403" y="1083.3" width="2" height="2.4"/><rect x="401" y="1084.4" width="6" height="1.4"/><rect x="412" y="1084.4" width="2" height="2.6"/><rect x="410" y="1084.4" width="6" height="1.4"/><rect x="428" y="1085.3" width="2" height="2.4"/><rect x="426" y="1085.3" width="6" height="1.4"/><rect x="444" y="1078" width="2" height="8.7"/><rect x="442" y="1081.3" width="6" height="3.7"/><rect x="477" y="1081" width="2" height="2.6"/><rect x="475" y="1082" width="6" height="1.6"/><rect x="518" y="1077.3" width="2" height="2"/><rect x="516" y="1077.3" width="6" height="2"/><rect x="543" y="1078.7" width="2" height="2"/><rect x="541" y="1078.7" width="6" height="2"/><rect x="551" y="1079.6" width="2" height="3.1"/><rect x="549" y="1079.6" width="6" height="1.7"/><rect x="559" y="1081" width="2" height="3.7"/><rect x="557" y="1081" width="6" height="2.3"/><rect x="567" y="1083.3" width="2" height="2.4"/><rect x="565" y="1083.3" width="6" height="1.4"/><rect x="600" y="1082.3" width="2" height="1.3"/><rect x="598" y="1082.2" width="6" height="1.4"/><rect x="608" y="1083" width="2" height="2.6"/><rect x="606" y="1084" width="6" height="1.6"/><rect x="617" y="1085.3" width="2" height="3.4"/><rect x="615" y="1085.3" width="6" height="2"/><rect x="625" y="1086.3" width="2" height="1.3"/><rect x="623" y="1086.2" width="6" height="1.4"/><rect x="633" y="1088.4" width="2" height="2.3"/><rect x="631" y="1088.4" width="6" height="1.4"/><rect x="641" y="1089.3" width="2" height="2.7"/><rect x="639" y="1089.3" width="6" height="1.4"/><rect x="666" y="1088.4" width="2" height="1.3"/><rect x="664" y="1088.4" width="6" height="1.4"/><rect x="707" y="1085.3" width="2" height="1.4"/><rect x="705" y="1085.3" width="6" height="1.4"/><rect x="715" y="1085.3" width="2" height="4"/><rect x="713" y="1086.3" width="6" height="3"/><rect x="731" y="1084" width="2" height="3.7"/><rect x="729" y="1085" width="6" height="1.7"/><rect x="740" y="1085.3" width="2" height="4"/><rect x="738" y="1086.3" width="6" height="3"/><rect x="748" y="1087.3" width="2" height="3.4"/><rect x="746" y="1088.4" width="6" height="1.4"/><rect x="772" y="1088.4" width="2" height="1.3"/><rect x="770" y="1088.4" width="6" height="1.4"/><rect x="781" y="1090.3" width="2" height="1.3"/><rect x="779" y="1090.2" width="6" height="1.4"/><rect x="821" y="1079" width="2" height="4.3"/><rect x="819" y="1080" width="6" height="3.3"/><rect x="830" y="1082.4" width="2" height="4.3"/><rect x="828" y="1082.4" width="6" height="4.3"/><rect x="846" y="1081.3" width="2" height="2.4"/><rect x="844" y="1081.3" width="6" height="1.4"/><rect x="862" y="1081" width="2" height="4.6"/><rect x="860" y="1082.7" width="6" height="2.9"/><rect x="871" y="1084.3" width="2" height="1.3"/><rect x="869" y="1084.2" width="6" height="1.4"/><rect x="887" y="1084.3" width="2" height="2.4"/><rect x="885" y="1084.2" width="6" height="1.4"/><rect x="903" y="1082" width="2" height="2.5"/><rect x="901" y="1083" width="6" height="1.5"/><rect x="912" y="1083" width="2" height="1.4"/><rect x="910" y="1083" width="6" height="1.4"/><rect x="953" y="1072" width="2" height="4.7"/><rect x="951" y="1073" width="6" height="3.7"/><rect x="961" y="1074" width="2" height="2.7"/><rect x="959" y="1075" width="6" height="1.7"/><rect x="994" y="1067" width="2" height="6.6"/><rect x="992" y="1070" width="6" height="3.6"/><rect x="1002" y="1071" width="2" height="3.7"/><rect x="1000" y="1072" width="6" height="1.6"/><rect x="1018" y="1071.3" width="2" height="2.3"/><rect x="1016" y="1071.3" width="6" height="1.4"/><rect x="1026" y="1071.3" width="2" height="2.3"/><rect x="1024" y="1071.3" width="6" height="1.4"/><rect x="1035" y="1072" width="2" height="4"/><rect x="1033" y="1072" width="6" height="1.4"/><rect x="1059" y="1071.3" width="2" height="6"/><rect x="1057" y="1071.3" width="6" height="5"/><rect x="1084" y="1061" width="2" height="8.6"/><rect x="1082" y="1063" width="6" height="6.6"/><rect x="1149" y="947.1" width="2" height="39.8"/><rect x="1147" y="978.1" width="6" height="5.6"/><rect x="1174" y="925" width="2" height="27.3"/><rect x="1172" y="938.3" width="6" height="11.7"/><rect x="1182" y="944.2" width="2" height="49.1"/><rect x="1180" y="949" width="6" height="35"/><rect x="1223" y="783.5" width="2" height="65.7"/><rect x="1221" y="790.5" width="6" height="37.5"/><rect x="1231" y="792.9" width="2" height="69.1"/><rect x="1229" y="826.9" width="6" height="12.9"/><rect x="1240" y="818.7" width="2" height="58.6"/><rect x="1238" y="840.3" width="6" height="1.8"/><rect x="1248" y="803" width="2" height="66.1"/><rect x="1246" y="841.7" width="6" height="21.1"/><rect x="1256" y="844" width="2" height="51"/><rect x="1254" y="862" width="6" height="32.2"/><rect x="1297" y="768.9" width="2" height="76.1"/><rect x="1295" y="817" width="6" height="8"/><rect x="1305" y="802.2" width="2" height="64.6"/><rect x="1303" y="822.9" width="6" height="31"/><rect x="1354" y="714.2" width="2" height="57.5"/><rect x="1352" y="731.9" width="6" height="30.7"/><rect x="1371" y="701.3" width="2" height="82.4"/><rect x="1369" y="720.8" width="6" height="6.6"/><rect x="1444" y="361.1" width="2" height="196.6"/><rect x="1442" y="379.4" width="6" height="48.8"/><rect x="1461" y="330.1" width="2" height="202"/><rect x="1459" y="413.2" width="6" height="108.5"/><rect x="1469" y="444.2" width="2" height="170.5"/><rect x="1467" y="521.7" width="6" height="93"/></g>
</g>
<g clip-path="url(#cr)">
<rect x="23" y="1224" width="1990" height="62" fill="#7e57c2" fill-opacity="0.12"/>
<g clip-path="url(#c70)"><polygon points="19.3,1230 19.3,1241.6 27.4,1246 35.6,1244 43.8,1234.7 52,1219.3 60.2,1229.6 68.4,1222.4 76.6,1213.3 84.8,1214.4 93,1227.3 101.2,1223.7 109.4,1224.9 117.6,1248.3 125.8,1240 134,1234 142.2,1232.3 150.4,1230.9 158.6,1245.3 166.8,1255.1 175,1253.1 183.2,1246.7 191.4,1252 199.6,1244.4 207.8,1243.3 216,1250 224.2,1256 232.4,1263.7 240.6,1266.7 248.7,1269.1 256.9,1270 265.1,1274.9 273.3,1271.3 281.5,1272 289.7,1276.3 297.9,1278.9 306.1,1282.4 314.3,1266 322.5,1261.3 330.7,1265.3 338.9,1272.7 347.1,1274.7 355.3,1272.4 363.5,1266.4 371.7,1272.3 379.9,1276.7 388.1,1266.4 396.3,1258.7 404.5,1261.6 412.7,1264.9 420.9,1264.4 429.1,1267.3 437.3,1246.3 445.5,1256.7 453.7,1253.1 461.9,1252.3 470,1251.7 478.2,1251.3 486.4,1247.3 494.6,1244.7 502.8,1243.3 511,1237.1 519.2,1246 527.4,1244.7 535.6,1242.4 543.8,1244 552,1248.3 560.2,1260 568.4,1268 576.6,1264.7 584.8,1261.6 593,1258.4 601.2,1264.9 609.4,1265.3 617.6,1275.3 625.8,1280.7 634,1283.7 642.2,1285.3 650.4,1279.7 658.6,1273.1 666.8,1279.7 675,1275.3 683.2,1262.7 691.3,1258.4 699.5,1253.1 707.7,1254.4 715.9,1269.1 724.1,1253.3 732.3,1254 740.5,1266 748.7,1267.6 756.9,1265.3 765.1,1263.7 773.3,1270.7 781.5,1274.7 789.7,1250.7 797.9,1239.3 806.1,1234.4 814.3,1231.7 822.5,1242.7 830.7,1254 838.9,1244 847.1,1246.7 855.3,1245.7 863.5,1253.3 871.7,1255.7 879.9,1253.6 888.1,1253.6 896.3,1248.7 904.5,1249.1 912.6,1253.1 920.8,1251.7 929,1228.7 937.2,1226.7 945.4,1220.7 953.6,1232.7 961.8,1234.9 970,1234.7 978.2,1230 986.4,1222 994.6,1233.6 1002.8,1236.3 1011,1232 1019.2,1233.1 1027.4,1236.7 1035.6,1245.1 1043.8,1237.6 1052,1234.7 1060.2,1249.3 1068.4,1232 1076.6,1224.7 1084.8,1240 1093,1235.7 1101.2,1237.1 1109.4,1226 1117.6,1212.7 1125.8,1211.1 1133.9,1192 1142.1,1190 1150.3,1197.1 1158.5,1191.3 1166.7,1190 1174.9,1200.7 1183.1,1230.7 1191.3,1215.3 1199.5,1208 1207.7,1206 1215.9,1198 1224.1,1214 1232.3,1218.9 1240.5,1220 1248.7,1227.3 1256.9,1239.7 1265.1,1236 1273.3,1235.3 1281.5,1230.7 1289.7,1223.7 1297.9,1226.7 1306.1,1238 1314.3,1236.7 1322.5,1229.6 1330.7,1228.3 1338.9,1218.4 1347.1,1215.3 1355.2,1227.3 1363.4,1220.3 1371.6,1222.9 1379.8,1214 1388,1213.3 1396.2,1212.7 1404.4,1210.9 1412.6,1210 1420.8,1205.6 1429,1200.7 1437.2,1193.3 1445.4,1208.3 1453.6,1207.3 1461.8,1232 1470,1248.3 1478.2,1239.7 1486.4,1238 1494.6,1228 1502.8,1222.4 1511,1218.7 1511,1230" fill="url(#ob)"/></g>
<g stroke="#82848e" stroke-width="2" stroke-dasharray="10 12">
<line x1="22" y1="1224" x2="2013" y2="1224"/><line x1="22" y1="1286" x2="2013" y2="1286"/><line x1="22" y1="1255" x2="2013" y2="1255" stroke-opacity="0.55"/>
</g>
<polyline points="19.3,1241.6 27.4,1246 35.6,1244 43.8,1234.7 52,1219.3 60.2,1229.6 68.4,1222.4 76.6,1213.3 84.8,1214.4 93,1227.3 101.2,1223.7 109.4,1224.9 117.6,1248.3 125.8,1240 134,1234 142.2,1232.3 150.4,1230.9 158.6,1245.3 166.8,1255.1 175,1253.1 183.2,1246.7 191.4,1252 199.6,1244.4 207.8,1243.3 216,1250 224.2,1256 232.4,1263.7 240.6,1266.7 248.7,1269.1 256.9,1270 265.1,1274.9 273.3,1271.3 281.5,1272 289.7,1276.3 297.9,1278.9 306.1,1282.4 314.3,1266 322.5,1261.3 330.7,1265.3 338.9,1272.7 347.1,1274.7 355.3,1272.4 363.5,1266.4 371.7,1272.3 379.9,1276.7 388.1,1266.4 396.3,1258.7 404.5,1261.6 412.7,1264.9 420.9,1264.4 429.1,1267.3 437.3,1246.3 445.5,1256.7 453.7,1253.1 461.9,1252.3 470,1251.7 478.2,1251.3 486.4,1247.3 494.6,1244.7 502.8,1243.3 511,1237.1 519.2,1246 527.4,1244.7 535.6,1242.4 543.8,1244 552,1248.3 560.2,1260 568.4,1268 576.6,1264.7 584.8,1261.6 593,1258.4 601.2,1264.9 609.4,1265.3 617.6,1275.3 625.8,1280.7 634,1283.7 642.2,1285.3 650.4,1279.7 658.6,1273.1 666.8,1279.7 675,1275.3 683.2,1262.7 691.3,1258.4 699.5,1253.1 707.7,1254.4 715.9,1269.1 724.1,1253.3 732.3,1254 740.5,1266 748.7,1267.6 756.9,1265.3 765.1,1263.7 773.3,1270.7 781.5,1274.7 789.7,1250.7 797.9,1239.3 806.1,1234.4 814.3,1231.7 822.5,1242.7 830.7,1254 838.9,1244 847.1,1246.7 855.3,1245.7 863.5,1253.3 871.7,1255.7 879.9,1253.6 888.1,1253.6 896.3,1248.7 904.5,1249.1 912.6,1253.1 920.8,1251.7 929,1228.7 937.2,1226.7 945.4,1220.7 953.6,1232.7 961.8,1234.9 970,1234.7 978.2,1230 986.4,1222 994.6,1233.6 1002.8,1236.3 1011,1232 1019.2,1233.1 1027.4,1236.7 1035.6,1245.1 1043.8,1237.6 1052,1234.7 1060.2,1249.3 1068.4,1232 1076.6,1224.7 1084.8,1240 1093,1235.7 1101.2,1237.1 1109.4,1226 1117.6,1212.7 1125.8,1211.1 1133.9,1192 1142.1,1190 1150.3,1197.1 1158.5,1191.3 1166.7,1190 1174.9,1200.7 1183.1,1230.7 1191.3,1215.3 1199.5,1208 1207.7,1206 1215.9,1198 1224.1,1214 1232.3,1218.9 1240.5,1220 1248.7,1227.3 1256.9,1239.7 1265.1,1236 1273.3,1235.3 1281.5,1230.7 1289.7,1223.7 1297.9,1226.7 1306.1,1238 1314.3,1236.7 1322.5,1229.6 1330.7,1228.3 1338.9,1218.4 1347.1,1215.3 1355.2,1227.3 1363.4,1220.3 1371.6,1222.9 1379.8,1214 1388,1213.3 1396.2,1212.7 1404.4,1210.9 1412.6,1210 1420.8,1205.6 1429,1200.7 1437.2,1193.3 1445.4,1208.3 1453.6,1207.3 1461.8,1232 1470,1248.3 1478.2,1239.7 1486.4,1238 1494.6,1228 1502.8,1222.4 1511,1218.7" fill="none" stroke="#7e57c2" stroke-width="2" stroke-linejoin="round"/>
</g>
<rect x="1612" y="173" width="381.5" height="430" fill="none" stroke="#fff" stroke-width="4"/>
<rect x="1614" y="255" width="377.5" height="56" fill="#ff5252"/>
<rect x="1614" y="313" width="377.5" height="56" fill="#ff9800"/>
<rect x="1614" y="371" width="377.5" height="56" fill="#ffeb3b"/>
<rect x="1614" y="429" width="377.5" height="56" fill="#4caf50"/>
<rect x="1614" y="487" width="377.5" height="56" fill="#2962ff"/>
<rect x="1614" y="545" width="377.5" height="56" fill="#000000"/>
<rect x="1614" y="253" width="377.5" height="2" fill="#fff"/>
<rect x="1614" y="311" width="377.5" height="2" fill="#fff"/>
<rect x="1614" y="369" width="377.5" height="2" fill="#fff"/>
<rect x="1614" y="427" width="377.5" height="2" fill="#fff"/>
<rect x="1614" y="485" width="377.5" height="2" fill="#fff"/>
<rect x="1614" y="543" width="377.5" height="2" fill="#fff"/>
<line x1="22" y1="287" x2="2013" y2="287" stroke="#26a69a" stroke-width="2" stroke-dasharray="2 4"/>
<path d="M2015 268H2216.3a4 4 0 0 1 4 4V333a4 4 0 0 1-4 4H2015Z" fill="#26a69a"/>
<rect x="2021.5" y="161.5" width="199" height="57" rx="9" fill="#0f0f0f" stroke="#3d3d3d" stroke-width="1.5"/>
<text x="22.90" y="43.7" font-size="27.3" fill="#e6e6e6" stroke="#e6e6e6" textLength="123.47" lengthAdjust="spacingAndGlyphs">VinceQuill</text>
<text x="154.98" y="43.7" font-size="27.3" fill="#e6e6e6" stroke="#e6e6e6" textLength="92.93" lengthAdjust="spacingAndGlyphs">created</text>
<text x="259.02" y="43.7" font-size="27.3" fill="#e6e6e6" stroke="#e6e6e6" textLength="49.59" lengthAdjust="spacingAndGlyphs">with</text>
<text x="317.70" y="43.7" font-size="27.3" fill="#e6e6e6" stroke="#e6e6e6" textLength="217.40" lengthAdjust="spacingAndGlyphs">TradingView.com,</text>
<text x="544.09" y="43.7" font-size="27.3" fill="#e6e6e6" stroke="#e6e6e6" textLength="46.27" lengthAdjust="spacingAndGlyphs">Nov</text>
<text x="601.72" y="43.7" font-size="27.3" fill="#e6e6e6" stroke="#e6e6e6" textLength="33.68" lengthAdjust="spacingAndGlyphs">16,</text>
<text x="644.27" y="43.7" font-size="27.3" fill="#e6e6e6" stroke="#e6e6e6" textLength="62.41" lengthAdjust="spacingAndGlyphs">2025</text>
<text x="715.31" y="43.7" font-size="27.3" fill="#e6e6e6" stroke="#e6e6e6" textLength="64.66" lengthAdjust="spacingAndGlyphs">12:14</text>
<text x="789.07" y="43.7" font-size="27.3" fill="#e6e6e6" stroke="#e6e6e6" textLength="81.41" lengthAdjust="spacingAndGlyphs">UTC-5</text>
<text x="40.70" y="103" font-size="27.3" fill="#b9bcc9" stroke="#b9bcc9" textLength="37.66" lengthAdjust="spacingAndGlyphs">Vol</text>
<text x="84.00" y="103" font-size="27.3" fill="#b9bcc9" stroke="#b9bcc9" textLength="12.12" lengthAdjust="spacingAndGlyphs">·</text>
<text x="102.70" y="103" font-size="27.3" fill="#b9bcc9" stroke="#b9bcc9" textLength="49.95" lengthAdjust="spacingAndGlyphs">ZEC</text>
<text x="167.29" y="103" font-size="27.3" fill="#26a69a" stroke="#26a69a" textLength="68.59" lengthAdjust="spacingAndGlyphs">12.08</text>
<text x="238.62" y="103" font-size="27.3" fill="#26a69a" stroke="#26a69a" textLength="18.89" lengthAdjust="spacingAndGlyphs">K</text>
<text x="41.40" y="196.9" font-size="27.3" fill="#b9bcc9" stroke="#b9bcc9" textLength="74.79" lengthAdjust="spacingAndGlyphs">Zcash</text>
<text x="123.00" y="196.9" font-size="27.3" fill="#b9bcc9" stroke="#b9bcc9" textLength="8.53" lengthAdjust="spacingAndGlyphs">/</text>
<text x="137.64" y="196.9" font-size="27.3" fill="#b9bcc9" stroke="#b9bcc9" textLength="51.90" lengthAdjust="spacingAndGlyphs">U.S.</text>
<text x="196.98" y="196.9" font-size="27.3" fill="#b9bcc9" stroke="#b9bcc9" textLength="72.11" lengthAdjust="spacingAndGlyphs">Dollar</text>
<text x="276.40" y="196.9" font-size="27.3" fill="#b9bcc9" stroke="#b9bcc9" textLength="10.91" lengthAdjust="spacingAndGlyphs">·</text>
<text x="292.26" y="196.9" font-size="27.3" fill="#b9bcc9" stroke="#b9bcc9" textLength="30.36" lengthAdjust="spacingAndGlyphs">1D</text>
<text x="330.00" y="196.9" font-size="27.3" fill="#b9bcc9" stroke="#b9bcc9" textLength="12.12" lengthAdjust="spacingAndGlyphs">·</text>
<text x="346.38" y="196.9" font-size="27.3" fill="#b9bcc9" stroke="#b9bcc9" textLength="99.82" lengthAdjust="spacingAndGlyphs">Binance</text>
<text x="460.95" y="196.9" font-size="27.3" fill="#b9bcc9" stroke="#b9bcc9" textLength="20.11" lengthAdjust="spacingAndGlyphs">O</text>
<text x="481.38" y="196.9" font-size="27.3" fill="#26a69a" stroke="#26a69a" textLength="162.73" lengthAdjust="spacingAndGlyphs">670.5671796</text>
<text x="658.21" y="196.9" font-size="27.3" fill="#b9bcc9" stroke="#b9bcc9" textLength="20.58" lengthAdjust="spacingAndGlyphs">H</text>
<text x="678.44" y="196.9" font-size="27.3" fill="#26a69a" stroke="#26a69a" textLength="168.51" lengthAdjust="spacingAndGlyphs">739.4986477</text>
<text x="862.02" y="196.9" font-size="27.3" fill="#b9bcc9" stroke="#b9bcc9" textLength="14.25" lengthAdjust="spacingAndGlyphs">L</text>
<text x="877.54" y="196.9" font-size="27.3" fill="#26a69a" stroke="#26a69a" textLength="168.51" lengthAdjust="spacingAndGlyphs">649.8510696</text>
<text x="1061.26" y="196.9" font-size="27.3" fill="#b9bcc9" stroke="#b9bcc9" textLength="18.51" lengthAdjust="spacingAndGlyphs">C</text>
<text x="1080.60" y="196.9" font-size="27.3" fill="#26a69a" stroke="#26a69a" textLength="158.98" lengthAdjust="spacingAndGlyphs">722.2018124</text>
<text x="1255.23" y="196.9" font-size="27.3" fill="#26a69a" stroke="#26a69a" textLength="171.06" lengthAdjust="spacingAndGlyphs">+50.9009894</text>
<text x="1438.32" y="196.9" font-size="27.3" fill="#26a69a" stroke="#26a69a" textLength="109.04" lengthAdjust="spacingAndGlyphs">(+7.58%)</text>
<text x="39.94" y="234.1" font-size="27.3" fill="#b9bcc9" stroke="#b9bcc9" textLength="90.68" lengthAdjust="spacingAndGlyphs">Moving</text>
<text x="139.00" y="234.1" font-size="27.3" fill="#b9bcc9" stroke="#b9bcc9" textLength="98.15" lengthAdjust="spacingAndGlyphs">Average</text>
<text x="244.96" y="234.1" font-size="27.3" fill="#b9bcc9" stroke="#b9bcc9" textLength="103.43" lengthAdjust="spacingAndGlyphs">Explorer</text>
<text x="39.49" y="1222.4" font-size="27.3" fill="#b9bcc9" stroke="#b9bcc9" textLength="41.25" lengthAdjust="spacingAndGlyphs">RSI</text>
<text x="95.74" y="1222.4" font-size="27.3" fill="#7e57c2" stroke="#7e57c2" textLength="65.39" lengthAdjust="spacingAndGlyphs">73.01</text>
<text x="2033.24" y="1141.3" font-size="28" fill="#b2b5be" stroke="#b2b5be" textLength="140.17" lengthAdjust="spacingAndGlyphs">0.0000000</text>
<text x="2032.16" y="1024.3" font-size="28" fill="#b2b5be" stroke="#b2b5be" textLength="174.75" lengthAdjust="spacingAndGlyphs">100.0000000</text>
<text x="2033.24" y="907.3" font-size="28" fill="#b2b5be" stroke="#b2b5be" textLength="173.67" lengthAdjust="spacingAndGlyphs">200.0000000</text>
<text x="2033.24" y="790.3" font-size="28" fill="#b2b5be" stroke="#b2b5be" textLength="173.67" lengthAdjust="spacingAndGlyphs">300.0000000</text>
<text x="2034.30" y="673.3" font-size="28" fill="#b2b5be" stroke="#b2b5be" textLength="172.60" lengthAdjust="spacingAndGlyphs">400.0000000</text>
<text x="2033.24" y="556.3" font-size="28" fill="#b2b5be" stroke="#b2b5be" textLength="173.67" lengthAdjust="spacingAndGlyphs">500.0000000</text>
<text x="2033.24" y="439.3" font-size="28" fill="#b2b5be" stroke="#b2b5be" textLength="173.67" lengthAdjust="spacingAndGlyphs">600.0000000</text>
<text x="2033.34" y="1264.3" font-size="28" fill="#b2b5be" stroke="#b2b5be" textLength="73.96" lengthAdjust="spacingAndGlyphs">50.00</text>
<text x="112.50" y="1339.8" font-size="28" fill="#b2b5be" stroke="#b2b5be" textLength="45.07" lengthAdjust="spacingAndGlyphs">Jun</text>
<text x="363.00" y="1339.8" font-size="28" fill="#b2b5be" stroke="#b2b5be" textLength="35.72" lengthAdjust="spacingAndGlyphs">Jul</text>
<text x="611.00" y="1339.8" font-size="28" fill="#b2b5be" stroke="#b2b5be" textLength="48.02" lengthAdjust="spacingAndGlyphs">Aug</text>
<text x="864.05" y="1339.8" font-size="28" fill="#b2b5be" stroke="#b2b5be" textLength="47.50" lengthAdjust="spacingAndGlyphs">Sep</text>
<text x="1109.92" y="1339.8" font-size="28" fill="#b2b5be" stroke="#b2b5be" textLength="46.84" lengthAdjust="spacingAndGlyphs">Oct</text>
<text x="1362.01" y="1339.8" font-size="28" fill="#b2b5be" stroke="#b2b5be" textLength="49.49" lengthAdjust="spacingAndGlyphs">Nov</text>
<text x="1608.86" y="1339.8" font-size="28" fill="#b2b5be" stroke="#b2b5be" textLength="48.34" lengthAdjust="spacingAndGlyphs">Dec</text>
<text x="1854.00" y="1339.8" font-size="28" fill="#b2b5be" stroke="#b2b5be" font-weight="bold" textLength="69.44" lengthAdjust="spacingAndGlyphs">2026</text>
<text x="2041.36" y="198.9" font-size="27.3" fill="#dbdbdb" stroke="#dbdbdb" textLength="55.93" lengthAdjust="spacingAndGlyphs">USD</text>
<text x="2034.54" y="296.1" font-size="28" fill="#ffffff" stroke="#ffffff" textLength="173.27" lengthAdjust="spacingAndGlyphs">722.2018124</text>
<text x="2034.55" y="327" font-size="28" fill="#ffffff" stroke="#ffffff" textLength="114.25" lengthAdjust="spacingAndGlyphs" fill-opacity="0.72" stroke-opacity="0.72">06:45:55</text>
<text x="1674.47" y="230.1" font-size="43.5" fill="#ffffff" stroke="#ffffff" textLength="246.47" lengthAdjust="spacingAndGlyphs" stroke-width="0">Bullish Trend</text>
<text x="1624.90" y="294.3" font-size="31.6" fill="#000" stroke="#000" textLength="35.07" lengthAdjust="spacingAndGlyphs" stroke-width="0">20</text>
<text x="1670.46" y="294.3" font-size="31.6" fill="#000" stroke="#000" textLength="74.83" lengthAdjust="spacingAndGlyphs" stroke-width="0">EMA:</text>
<text x="1754.23" y="294.3" font-size="31.6" fill="#000" stroke="#000" textLength="196.98" lengthAdjust="spacingAndGlyphs" stroke-width="0">508.4169166</text>
<text x="1624.88" y="352.1" font-size="31.6" fill="#000" stroke="#000" textLength="125.77" lengthAdjust="spacingAndGlyphs" stroke-width="0">50-EMA:</text>
<text x="1759.73" y="352.1" font-size="31.6" fill="#000" stroke="#000" textLength="197.18" lengthAdjust="spacingAndGlyphs" stroke-width="0">364.7287130</text>
<text x="1624.86" y="410.3" font-size="31.6" fill="#000" stroke="#000" textLength="145.41" lengthAdjust="spacingAndGlyphs" stroke-width="0">200-EMA:</text>
<text x="1779.46" y="410.3" font-size="31.6" fill="#000" stroke="#000" textLength="197.12" lengthAdjust="spacingAndGlyphs" stroke-width="0">162.4893377</text>
<text x="1624.58" y="468.1" font-size="31.6" fill="#000" stroke="#000" textLength="107.56" lengthAdjust="spacingAndGlyphs" stroke-width="0">9-EMA:</text>
<text x="1740.63" y="468.1" font-size="31.6" fill="#000" stroke="#000" textLength="197.58" lengthAdjust="spacingAndGlyphs" stroke-width="0">590.2370978</text>
<text x="1624.86" y="526.3" font-size="31.6" fill="#000" stroke="#000" textLength="145.41" lengthAdjust="spacingAndGlyphs" stroke-width="0">365-EMA:</text>
<text x="1779.41" y="526.3" font-size="31.6" fill="#000" stroke="#000" textLength="196.61" lengthAdjust="spacingAndGlyphs" stroke-width="0">111.8374105</text>
<text x="1675.90" y="584" font-size="31.6" fill="#fff" stroke="#fff" textLength="65.83" lengthAdjust="spacingAndGlyphs" stroke-width="0">ATR:</text>
<text x="1749.02" y="584" font-size="31.6" fill="#fff" stroke="#fff" textLength="179.69" lengthAdjust="spacingAndGlyphs" stroke-width="0">98.5793568</text>
<g fill="#dbdbdb">
<path d="M26.5 1408.2H52.5V1441.5H39.5V1422.1H26.5Z"/>
<circle cx="63.7" cy="1415.1" r="6.7"/>
<path d="M74.5 1408.2H92.3L80.2 1441.5H63.7Z"/>
</g>
<defs><clipPath id="cV"><rect x="255" y="1408.2" width="60" height="33.399999999999864"/></clipPath>
<clipPath id="cW"><path d="M330 1417.0 H351.5 V1421.6 H358.5 V1417.0 H380 V1441.6 H330Z"/></clipPath></defs>
<g fill="#dbdbdb" stroke="none">
<rect x="107.7" y="1408.2" width="24.4" height="6.7"/><rect x="116.3" y="1408.2" width="7" height="33.399999999999864"/>
<rect x="131.4" y="1417.0" width="7" height="24.59999999999991"/>
<rect x="165" y="1417.0" width="6.8" height="24.59999999999991"/>
<rect x="193.3" y="1408.2" width="6.8" height="33.399999999999864"/>
<rect x="204.4" y="1417.0" width="6.9" height="24.59999999999991"/><circle cx="207.85" cy="1411.2" r="4.25"/>
<rect x="215.7" y="1417.0" width="6.9" height="24.59999999999991"/>
<rect x="301" y="1417.0" width="6.9" height="24.59999999999991"/><circle cx="304.45" cy="1411.2" r="4.25"/>
<rect x="316" y="1426.4" width="20" height="5.4"/>
</g>
<g fill="none" stroke="#dbdbdb" stroke-width="6.6">
<path d="M134.9 1431 Q134.9 1420.3 146.3 1420.3" stroke-width="6.7"/>
<circle cx="159.35" cy="1429.3" r="9.4"/>
<circle cx="187.6" cy="1429.3" r="9.4"/>
<circle cx="253.7" cy="1429.3" r="9.4"/>
<path d="M219.15 1430 V1428.5 A7.4 8.2 0 0 1 233.95 1428.5 V1441.6" stroke-width="6.8"/>
<path d="M262.65 1417.0 V1440 A9.3 9.3 0 0 1 245.3 1444.4" stroke-width="6.7"/>
<path d="M330.96 1434.93 A9.15 9.15 0 1 1 332.90 1429.80" stroke-width="6.5"/>
</g>
<g clip-path="url(#cV)"><polyline points="265.54,1400.20 282.65,1443.10 297.34,1400.20" fill="none" stroke="#dbdbdb" stroke-width="7.7" stroke-linejoin="miter" stroke-miterlimit="20"/></g>
<polygon fill="#dbdbdb" points="336.67,1417 344,1417 349,1432.3 353,1421.7 358,1421.7 362.3,1432.3 366,1417 373.3,1417 366,1441.6 359,1441.6 355.5,1431.3 352,1441.6 345.7,1441.6"/>
</svg></body></html>
